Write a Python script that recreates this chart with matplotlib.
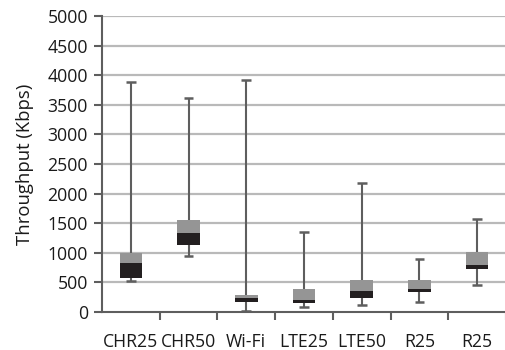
import matplotlib.pyplot as plt
import numpy as np

# Dados (Kbps)
categorias = ["CHR25", "CHR50", "Wi-Fi", "LTE25", "LTE50", "R25", "R25"]
minimos = [520, 950, 20, 90, 115, 165, 455]
q1 = [570, 1130, 170, 157, 240, 343, 720]
medianas = [830, 1340, 240, 200, 360, 393, 788]
q3 = [1000, 1560, 287, 383, 540, 540, 1017]
maximos = [3890, 3610, 3925, 1355, 2180, 900, 1563]
yticks = [0, 500, 1000, 1500, 2000, 2500, 3000, 3500, 4000, 4500, 5000]

plt.rcParams['font.family'] = ['Open Sans', 'DejaVu Sans']

cor_escura = "#231f20"
cor_clara = "#959595"
cor_linha = "#5e5e5e"
cor_grade = "#b9b9b9"
cor_texto = "#1a1a1a"

fig = plt.figure(figsize=(5.06, 3.5), dpi=100)
ax = fig.add_axes([0.2016, 0.1086, 0.7984, 0.8457])

x = np.arange(len(categorias))

# grade horizontal
for v in yticks[1:]:
    ax.axhline(v, color=cor_grade, lw=1.6, zorder=0)

# bigodes
ax.vlines(x, minimos, maximos, color=cor_linha, lw=1.5, zorder=2)
ax.hlines(minimos, x - 0.085, x + 0.085, color=cor_linha, lw=1.8, zorder=2)
ax.hlines(maximos, x - 0.085, x + 0.085, color=cor_linha, lw=1.8, zorder=2)

# caixas: Q1->mediana escura, mediana->Q3 clara
baixo = np.array(medianas) - np.array(q1)
cima = np.array(q3) - np.array(medianas)
ax.bar(x, baixo, bottom=q1, width=0.39, color=cor_escura, zorder=3)
ax.bar(x, cima, bottom=medianas, width=0.39, color=cor_clara, zorder=3)

ax.set_xlim(-0.5, len(categorias) - 0.5)
ax.set_ylim(0, 5000)
ax.set_yticks(yticks)
ax.set_xticks(x)
ax.set_xticklabels(categorias, fontsize=12.7, color=cor_texto)
ax.set_xticks(np.arange(0.5, len(categorias), 1), minor=True)
ax.tick_params(axis='x', which='major', length=0, pad=15)
ax.tick_params(axis='x', which='minor', length=6, width=1.5, color=cor_linha)
ax.tick_params(axis='y', length=6, width=1.5, color=cor_linha, labelsize=12.7,
               labelcolor=cor_texto, pad=4)
ax.set_ylabel("Throughput (Kbps)", fontsize=13.3, color=cor_texto, labelpad=10)

for lado in ["top", "right"]:
    ax.spines[lado].set_visible(False)
for lado in ["left", "bottom"]:
    ax.spines[lado].set_color(cor_linha)
    ax.spines[lado].set_linewidth(1.5)

fig.savefig("out.png", dpi=100)
